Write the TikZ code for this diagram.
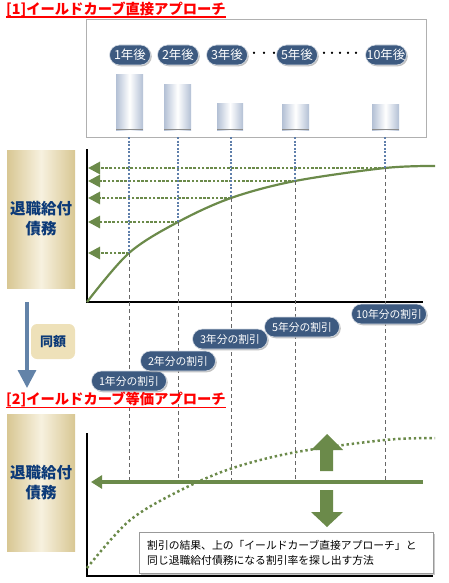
\documentclass[tikz,border=0pt]{standalone}
\usepackage{fontspec}
\setmainfont{Noto Sans CJK JP}
\usetikzlibrary{arrows.meta,shadows}
\definecolor{pillblue}{HTML}{3D5A80}
\definecolor{taned}{HTML}{D8C793}
\definecolor{tanmid}{HTML}{F7F1DF}
\definecolor{navy}{HTML}{0C3A78}
\definecolor{samefill}{HTML}{EEE1B9}
\definecolor{arrowblue}{HTML}{6383A8}
\definecolor{baredge}{HTML}{B3C0D5}
\definecolor{gr}{HTML}{6B8A4A}
\definecolor{vblue}{HTML}{5F7FAB}
\definecolor{boxgray}{HTML}{B0B0B0}
\definecolor{titlered}{HTML}{FF0000}
\tikzset{
  pilltop/.style={fill=pillblue, draw=white!80!pillblue, line width=0.6pt, text=white,
    rounded corners=10pt, minimum width=41pt, minimum height=20pt, inner sep=0pt,
    font=\fontsize{12.5}{14}\selectfont,
    drop shadow={shadow xshift=1.3pt, shadow yshift=-1.3pt, fill=black!40, opacity=0.6}},
  pillbot/.style={pilltop, minimum width=75pt, font=\fontsize{10.8}{13}\selectfont},
  tanbox/.style={left color=taned, right color=taned, middle color=tanmid,
    minimum width=68pt, minimum height=138pt, inner sep=0pt, align=center,
    text=navy, font=\bfseries\fontsize{15.5}{20}\selectfont},
  titletext/.style={anchor=base west, inner sep=0pt, text=titlered,
    font=\bfseries\fontsize{14.3}{16}\selectfont},
  uline/.style={draw=titlered, line width=1.2pt},
  curveline/.style={draw=gr, line width=2.2pt},
  gdot/.style={draw=gr, line width=2.8pt, dash pattern=on 2.6pt off 1.6pt},
  gdotcurve/.style={draw=gr, line width=2.5pt, dash pattern=on 2.4pt off 2.8pt},
  bdot/.style={draw=vblue, line width=2.1pt, dash pattern=on 2pt off 1.6pt},
  gdash/.style={draw=black!60, line width=0.8pt, dash pattern=on 4pt off 3pt},
  axis/.style={draw=black, line width=1.2pt},
  smalltip/.style={-{Triangle[length=12pt,width=12pt]}},
  bar/.style={left color=baredge, right color=baredge, middle color=white},
  barbase/.style={draw=black!45, line width=1.6pt},
  blockarrow/.style={fill=gr},
  dotstext/.style={inner sep=0pt, font=\fontsize{11}{12}\selectfont},
}
\begin{document}
\begin{tikzpicture}[x=1pt,y=-1pt]
\useasboundingbox (0,0) rectangle (448,583);

% ---------- titles ----------
\node[titletext] (t1) at (6,14.5) {[1]イールドカーブ直接アプローチ};
\draw[uline] ([yshift=-2.6pt]t1.base west) -- ([yshift=-2.6pt]t1.base east);

% ---------- top box ----------
\node[draw=boxgray, line width=0.9pt, anchor=north west, minimum width=340pt,
  minimum height=118pt, inner sep=0pt] (topbox) at (86,19) {};

% bars
\shade[bar] (116,75) rectangle (143,130);
\shade[bar] (164,85) rectangle (191,130);
\shade[bar] (217,104) rectangle (243,130);
\shade[bar] (282,105) rectangle (309,130);
\shade[bar] (372,105) rectangle (399,130);
\draw[barbase] (116,129.5) -- (143,129.5);
\draw[barbase] (164,129.5) -- (191,129.5);
\draw[barbase] (217,129.5) -- (243,129.5);
\draw[barbase] (282,129.5) -- (309,129.5);
\draw[barbase] (372,129.5) -- (399,129.5);

% pills
\node[pilltop] (y1) at (130,55) {1年後};
\node[pilltop] (y2) at (178,55) {2年後};
\node[pilltop] (y3) at (227,55) {3年後};
\node[pilltop] (y5) at (297,55) {5年後};
\node[pilltop] (y10) at (386,55) {10年後};
\node[dotstext] (d1) at (264,55) {・\kern-1pt・\kern-1pt・};
\node[dotstext] (d2) at (340,55) {・\kern-3pt・\kern-3pt・\kern-3pt・\kern-3pt・};

% ---------- upper graph ----------
\node[tanbox] (L1) at (41,219) {退職給付\\債務};

\coordinate (o1) at (87,302);
\coordinate (p1) at (129,253);
\coordinate (p2) at (178,222);
\coordinate (p3) at (231,198);
\coordinate (p4) at (295,181);
\coordinate (p5) at (385,168);
\coordinate (e1) at (435,166);
\coordinate (ytip) at (88,0);
\coordinate (bt) at (0,137);
\coordinate (hl) at (0,482);
\coordinate (ax1top) at (87,149);
\coordinate (ax1end) at (423,302);

\draw[axis] (ax1top) -- (o1) -- (ax1end);
\draw[curveline] plot[smooth, tension=0.55] coordinates {(o1) (p1) (p2) (p3) (p4) (p5) (e1)};

\foreach \p in {p1,p2,p3,p4,p5}{
  \draw[gdot, smalltip] (\p) -- (\p -| ytip);
}
\foreach \p in {p1,p2,p3,p4,p5}{
  \draw[bdot] (\p |- bt) -- (\p);
  \draw[gdash] (\p) -- (\p |- hl);
}

% ---------- middle ----------
\coordinate (ba1) at (27,302);
\coordinate (ba2) at (27,388);
\draw[draw=arrowblue, line width=3.3pt, -{Triangle[length=18pt,width=18pt]}] (ba1) -- (ba2);
\node[fill=samefill, rounded corners=6pt, minimum width=44pt, minimum height=35pt,
  inner sep=0pt, text=navy, font=\bfseries\fontsize{13}{15}\selectfont] (same) at (53,341.5) {同額};

\node[pillbot] (w1) at (129,381) {1年分の割引};
\node[pillbot] (w2) at (178,361) {2年分の割引};
\node[pillbot] (w3) at (230,339) {3年分の割引};
\node[pillbot] (w5) at (302,327) {5年分の割引};
\node[pillbot] (w10) at (389,314) {10年分の割引};

\node[titletext] (t2) at (6,404.5) {[2]イールドカーブ等価アプローチ};
\draw[uline] ([yshift=-2.6pt]t2.base west) -- ([yshift=-2.6pt]t2.base east);

% ---------- lower graph ----------
\node[tanbox, minimum height=137pt] (L2) at (41,482.5) {退職給付\\債務};

\coordinate (o2) at (87,568);
\coordinate (q1) at (129,521);
\coordinate (q2) at (178,491.5);
\coordinate (q3) at (231,468.6);
\coordinate (q4) at (295,452.3);
\coordinate (q5) at (385,440);
\coordinate (e2) at (435,438);
\coordinate (ax2top) at (87,433);
\coordinate (ax2corner) at (87,576);
\coordinate (ax2end) at (433,576);
\draw[axis] (ax2top) -- (ax2corner) -- (ax2end);
\draw[gdotcurve] plot[smooth, tension=0.55] coordinates {(o2) (q1) (q2) (q3) (q4) (q5) (e2)};

\coordinate (hr) at (423,482);
\coordinate (hlft) at (91,482);
\draw[draw=gr, line width=3.2pt, -{Triangle[length=11pt,width=13pt]}] (hr) -- (hlft);

\fill[blockarrow] (320,471) -- (333,471) -- (333,450) -- (343,450) -- (327,434) -- (311,450) -- (320,450) -- cycle;
\fill[blockarrow] (320,490) -- (333,490) -- (333,512) -- (343,512) -- (327,527) -- (311,512) -- (320,512) -- cycle;

\node[draw=black!40, fill=white, line width=0.8pt, anchor=north west, minimum width=294pt,
  minimum height=41pt, inner sep=0pt,
  drop shadow={shadow xshift=1.5pt, shadow yshift=-1.5pt, fill=black!30, opacity=0.7}] (tb) at (139,532) {};
\node[anchor=west, align=left, inner sep=0pt, font=\fontsize{10.8}{15.5}\selectfont] (tbt) at (147,553)
  {割引の結果、上の「イールドカーブ直接アプローチ」と\\同じ退職給付債務になる割引率を探し出す方法};
\end{tikzpicture}
\end{document}
